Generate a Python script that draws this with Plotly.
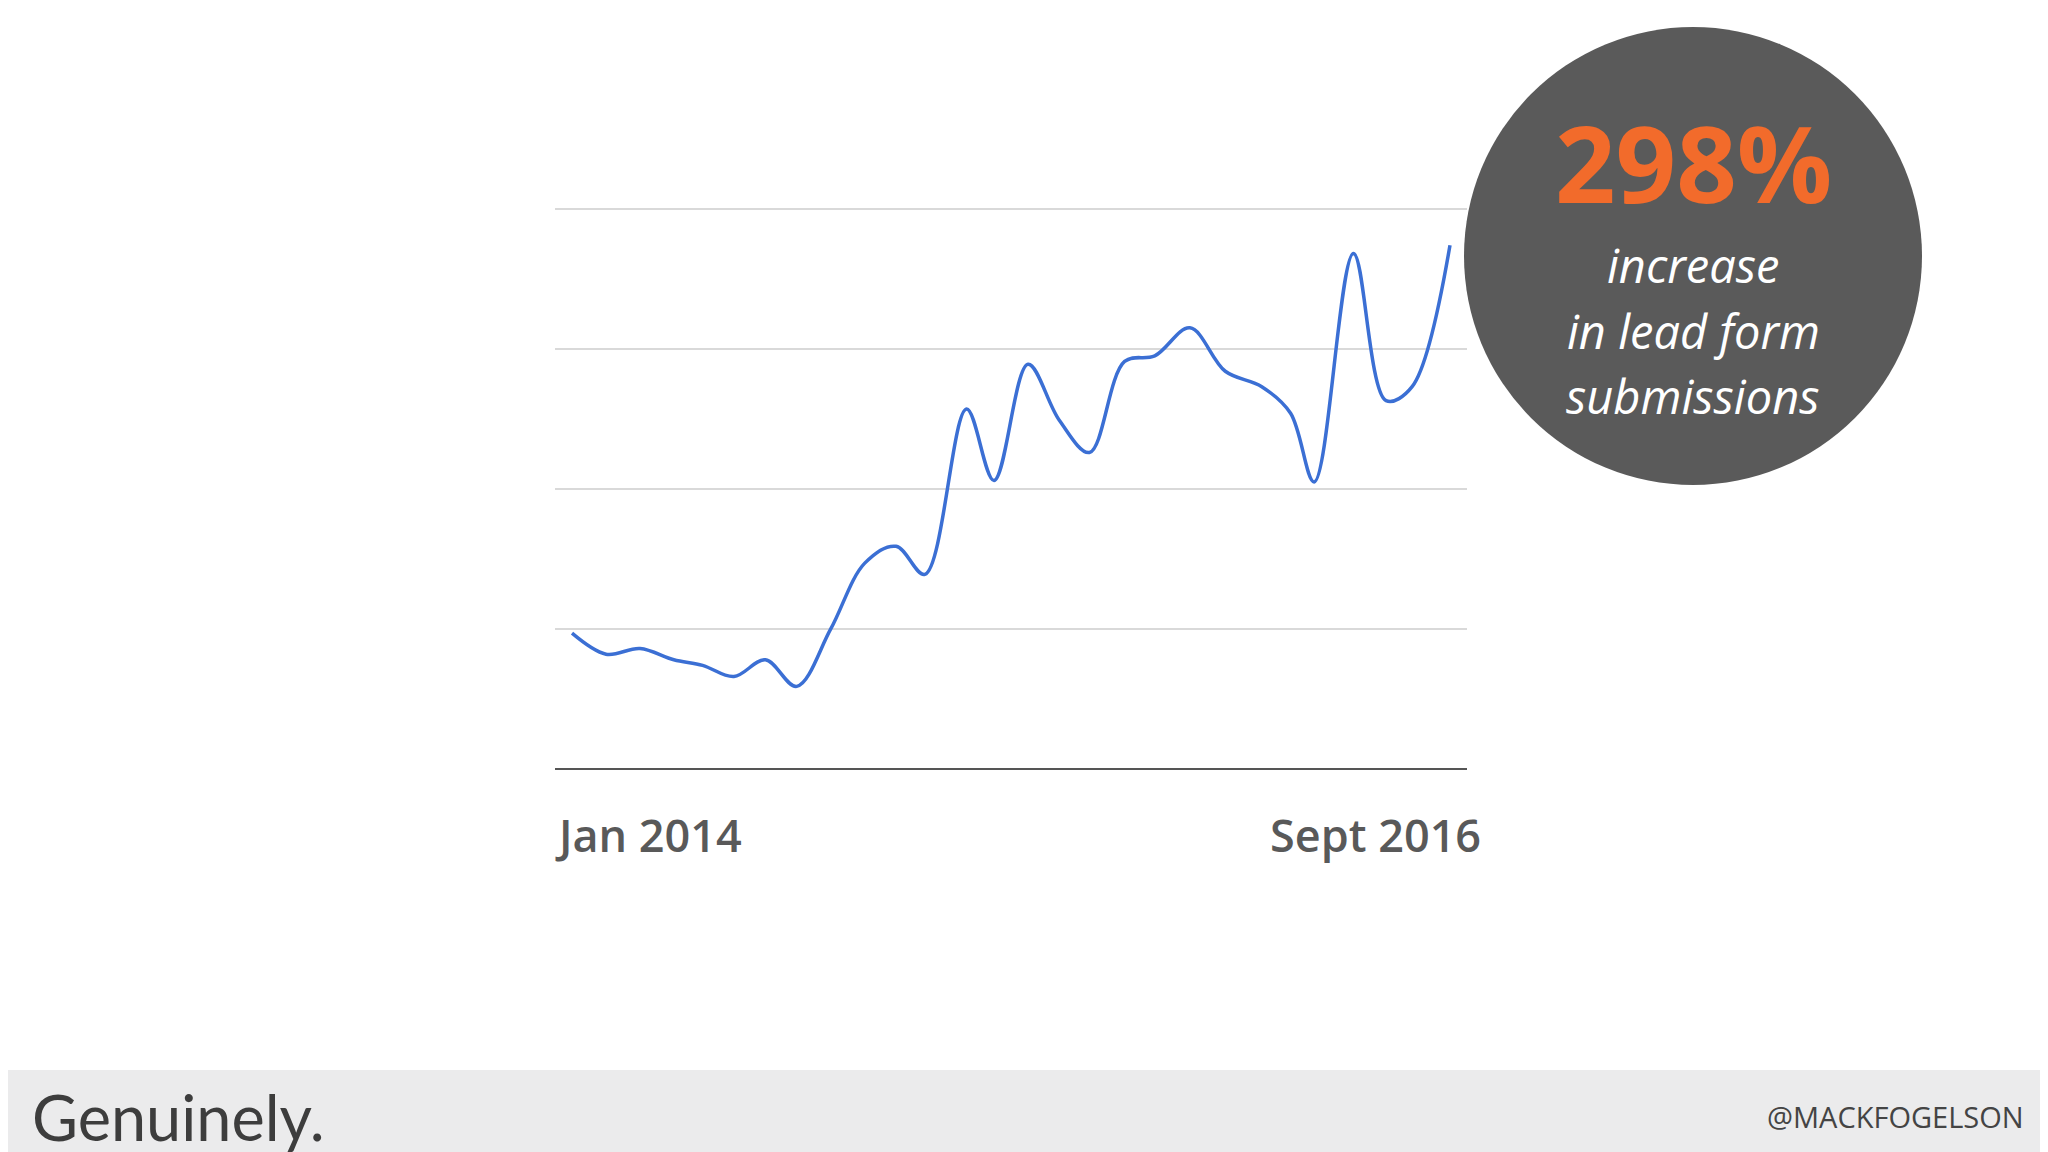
import plotly.graph_objects as go

# months since Jan 2014 and relative lead form volume
months = [0, 1.24, 2.48, 3.71, 4.76, 5.9, 7.05, 8.19, 9.43, 10.67, 11.81, 12.86,
          14.38, 15.38, 16.62, 17.76, 18.86, 20.14, 21.24, 22.52, 23.81, 25.14,
          26.19, 27.05, 28.48, 29.67, 30.62, 32]
leads = [0.97, 0.82, 0.86, 0.78, 0.74, 0.66, 0.78, 0.59, 1.00, 1.47, 1.59, 1.39,
         2.57, 2.06, 2.89, 2.49, 2.26, 2.91, 2.95, 3.15, 2.84, 2.73,
         2.54, 2.05, 3.68, 2.63, 2.73, 3.74]
start_label = "Jan 2014"
end_label = "Sept 2016"

W, H = 2048, 1152
fig = go.Figure()
fig.add_trace(go.Scatter(x=months, y=leads, mode="lines", line_shape="spline",
                         line=dict(color="#3b6fd4", width=3.5), showlegend=False,
                         hoverinfo="skip"))

fig.update_xaxes(domain=[547 / W, 1459 / W], range=[-0.62, 32.62], showgrid=False,
                 showticklabels=False, zeroline=False, showline=False)
fig.update_yaxes(domain=[1 - 761 / H, 1 - 198 / H], range=[0, 4.02], dtick=1,
                 gridcolor="#d9d9d9", gridwidth=2, showticklabels=False,
                 zeroline=True, zerolinecolor="#555555", zerolinewidth=2)

shapes = [
    dict(type="rect", xref="paper", yref="paper", x0=0, x1=1, y0=0, y1=90 / H,
         fillcolor="#ebebec", line_width=0, layer="below"),
    dict(type="circle", xref="paper", yref="paper",
         x0=(1685 - 229) / W, x1=(1685 + 229) / W,
         y0=1 - (248 + 229) / H, y1=1 - (248 - 229) / H,
         fillcolor="#5a5a5a", line_width=0),
]

ann = []
def txt(s, x, y, size, color, xanchor="center", family="Open Sans", weight=None):
    f = dict(size=size, color=color, family=family)
    if weight:
        f["weight"] = weight
    ann.append(dict(text=s, x=x / W, y=1 - y / H, xref="paper", yref="paper",
                    showarrow=False, xanchor=xanchor, yanchor="middle", font=f))

txt(start_label, 545, 826, 45, "#595959", xanchor="left", weight=600)
txt(end_label, 1475, 826, 45, "#595959", xanchor="right", weight=600)
txt("<b>298%</b>", 1685, 154, 106, "#f26b2b")
txt("<i>increase</i>", 1685, 257, 47, "white")
txt("<i>in lead form</i>", 1685, 323, 47, "white")
txt("<i>submissions</i>", 1685, 388, 47, "white")
txt("Genuinely.", 22, 1108, 63, "#3d3d3d", xanchor="left", family="Lato")
txt("@MACKFOGELSON", 2018, 1108, 29, "#444444", xanchor="right")

fig.update_layout(width=W, height=H, margin=dict(l=0, r=0, t=0, b=0),
                  paper_bgcolor="white", plot_bgcolor="white",
                  shapes=shapes, annotations=ann)
fig.write_html("out.html")
